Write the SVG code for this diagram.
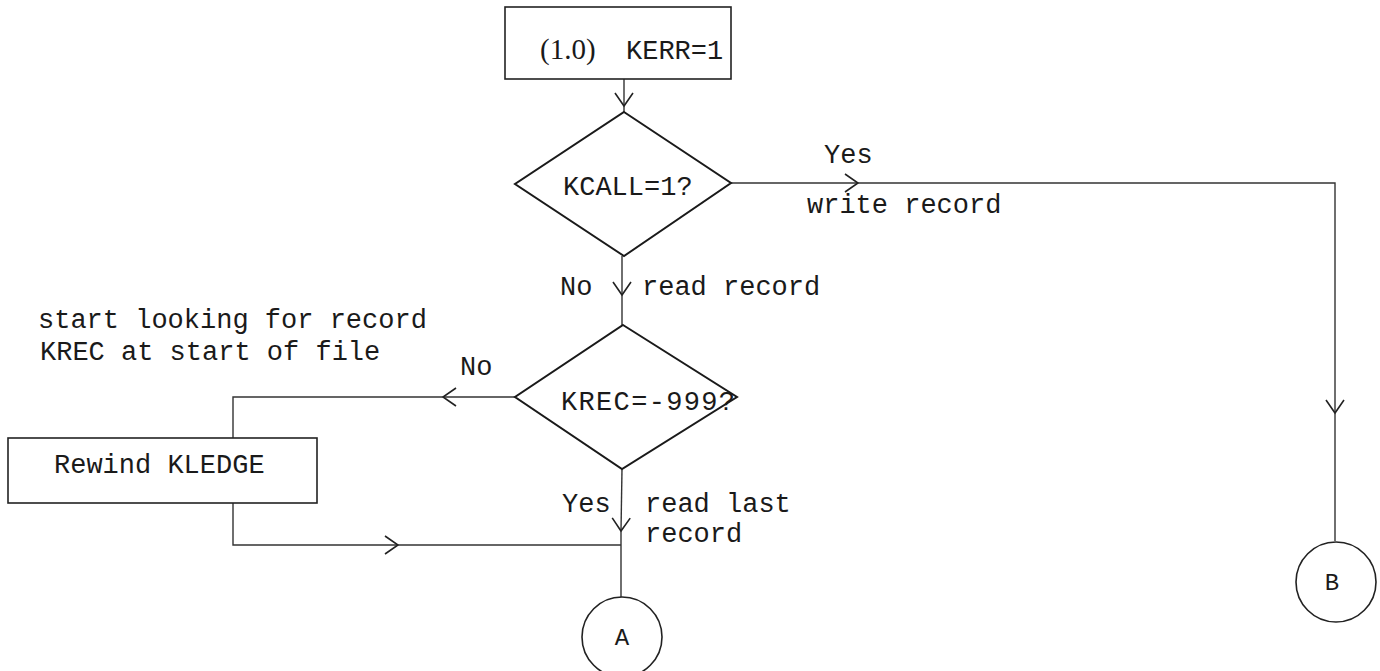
<svg xmlns="http://www.w3.org/2000/svg" width="1380" height="671" viewBox="0 0 1380 671">
  <style>
    .shape { fill: none; stroke: #222; stroke-width: 1.6; }
    .diam { fill: none; stroke: #1a1a1a; stroke-width: 2; }
    .conn { fill: none; stroke: #333; stroke-width: 1.4; }
    .t { font-family: "Liberation Mono", "Courier New", monospace; font-size: 27px; fill: #1a1a1a; }
    .serif { font-family: "Liberation Serif", "Times New Roman", serif; font-size: 29px; }
    .mid { text-anchor: middle; }
  </style>
  <defs>
    <marker id="chev" viewBox="-14 -12 28 24" refX="0" refY="0" markerWidth="28" markerHeight="24" markerUnits="userSpaceOnUse" orient="auto" overflow="visible">
      <path d="M-13,-9 L0,0 L-13,9" fill="none" stroke="#222" stroke-width="1.6"/>
    </marker>
  </defs>
  <rect width="1380" height="671" fill="#ffffff"/>

  <g id="connectors">
    <path class="conn" d="M624,79 L624,106" marker-end="url(#chev)"/>
    <path class="conn" d="M624,106 L624,112"/>
    <path class="conn" d="M622,256 L622,295" marker-end="url(#chev)"/>
    <path class="conn" d="M622,295 L622,325"/>
    <path class="conn" d="M731,183 L858,183" marker-end="url(#chev)"/>
    <path class="conn" d="M858,183 L1335,183 L1335,413" marker-end="url(#chev)"/>
    <path class="conn" d="M1335,413 L1335,541"/>
    <path class="conn" d="M515,397 L443,397" marker-end="url(#chev)"/>
    <path class="conn" d="M443,397 L233,397 L233,438"/>
    <path class="conn" d="M233,503 L233,545 L398,545" marker-end="url(#chev)"/>
    <path class="conn" d="M398,545 L621,545"/>
    <path class="conn" d="M622,469 L621,531" marker-end="url(#chev)"/>
    <path class="conn" d="M621,531 L621,597"/>
    <text class="t" x="824" y="163">Yes</text>
    <text class="t" x="807" y="213">write record</text>
    <text class="t" x="560" y="295">No</text>
    <text class="t" x="642" y="295">read record</text>
    <text class="t" x="460" y="375">No</text>
    <text class="t" x="562" y="512">Yes</text>
    <text class="t" x="645" y="512">read last</text>
    <text class="t" x="645" y="542">record</text>
  </g>

  <g id="start">
    <rect class="shape" x="505" y="7" width="226" height="72"/>
    <text class="t" y="59"><tspan class="serif" x="540">(1.0)</tspan> <tspan x="626">KERR=1</tspan></text>
  </g>

  <g id="kcall">
    <polygon class="diam" points="624,112 731,183 624,256 515,184"/>
    <text class="t" x="563" y="195">KCALL=1?</text>
  </g>

  <g id="krec">
    <polygon class="diam" points="623,325 737,397 622,469 515,397"/>
    <text class="t" x="561" y="410" textLength="174" lengthAdjust="spacing">KREC=-999?</text>
  </g>

  <g id="note">
    <text class="t" x="38" y="328">start looking for record</text>
    <text class="t" x="40" y="360">KREC at start of file</text>
  </g>

  <g id="rewind">
    <rect class="shape" x="8" y="438" width="309" height="65"/>
    <text class="t" x="54" y="473">Rewind KLEDGE</text>
  </g>

  <g id="connA">
    <circle class="shape" cx="622" cy="637" r="40"/>
    <text class="t mid" x="622" y="645" style="font-size:24px">A</text>
  </g>

  <g id="connB">
    <circle class="shape" cx="1336" cy="582" r="40"/>
    <text class="t mid" x="1332" y="590" style="font-size:24px">B</text>
  </g>
</svg>
